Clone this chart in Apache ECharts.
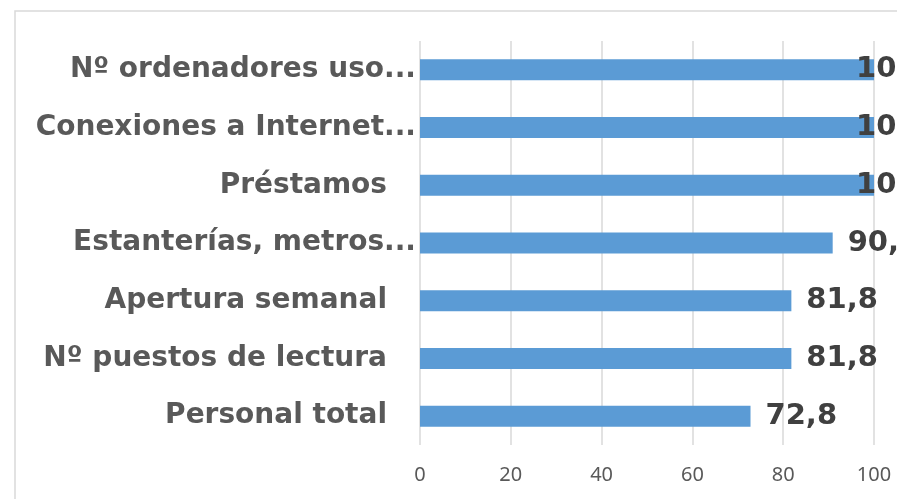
<!DOCTYPE html>
<html>
<head>
<meta charset="utf-8">
<script src="https://cdn.jsdelivr.net/npm/echarts@6/dist/echarts.min.js"></script>
<style>
  html, body { margin: 0; padding: 0; background: #fff; }
  #chart { width: 897px; height: 499px; }
</style>
</head>
<body>
<div id="chart"></div>
<script>
// categorías de arriba a abajo (tal como aparecen, con los recortes de Excel)
const categories = [
  'Nº ordenadores uso...',
  'Conexiones a Internet...',
  'Préstamos ',
  'Estanterías, metros...',
  'Apertura semanal ',
  'Nº puestos de lectura ',
  'Personal total '
]
const values = [100, 100, 100, 90.9, 81.8, 81.8, 72.8]
const valueLabels = ['100', '100', '100', '90,9', '81,8', '81,8', '72,8']
const xTicks = [0, 20, 40, 60, 80, 100]

const chart = echarts.init(document.getElementById('chart'), null, { renderer: 'canvas' })

const labelFont = {
  color: '#595959',
  fontFamily: 'DejaVu Sans',
  fontWeight: 'bold',
  fontSize: 28
}

const option = {
  animation: false,
  backgroundColor: '#fff',
  graphic: [
    {
      // borde del área del gráfico (recortado a la derecha y abajo)
      type: 'rect',
      shape: { x: 15, y: 11, width: 1000, height: 1000 },
      style: { fill: 'none', stroke: '#d9d9d9', lineWidth: 1.5 },
      z: -1
    }
  ],
  grid: {
    left: 420,
    right: 23,
    top: 41,
    bottom: 54,
    containLabel: false
  },
  xAxis: {
    type: 'value',
    min: xTicks[0],
    max: xTicks[xTicks.length - 1],
    interval: 20,
    axisLine: { show: false },
    axisTick: { show: false },
    axisLabel: {
      color: '#595959',
      fontFamily: 'Noto Sans',
      fontSize: 20,
      margin: 20
    },
    splitLine: {
      lineStyle: { color: '#d9d9d9', width: 1.5 }
    }
  },
  yAxis: {
    type: 'category',
    inverse: true,
    data: categories,
    axisLine: { show: false },
    axisTick: { show: false },
    axisLabel: Object.assign({}, labelFont, {
      margin: 4,
      // los nombres con espacio final quedan separados del eje
      formatter: (v) => v.endsWith(' ') ? '{p|' + v.trim() + '}' : '{n|' + v + '}',
      rich: {
        p: Object.assign({}, labelFont, { padding: [0, 29, 0, 0] }),
        n: Object.assign({}, labelFont)
      }
    })
  },
  series: [
    {
      type: 'bar',
      barWidth: 21,
      data: values.map((v) => ({
        value: v,
        label: v >= 100 ? { offset: [-33, 0] } : {}
      })),
      itemStyle: { color: '#5b9bd5' },
      label: {
        show: true,
        position: 'right',
        distance: 15,
        color: '#404040',
        fontFamily: 'DejaVu Sans',
        fontWeight: 'bold',
        fontSize: 29,
        formatter: (p) => valueLabels[p.dataIndex]
      }
    }
  ]
}

chart.setOption(option)
</script>
</body>
</html>
